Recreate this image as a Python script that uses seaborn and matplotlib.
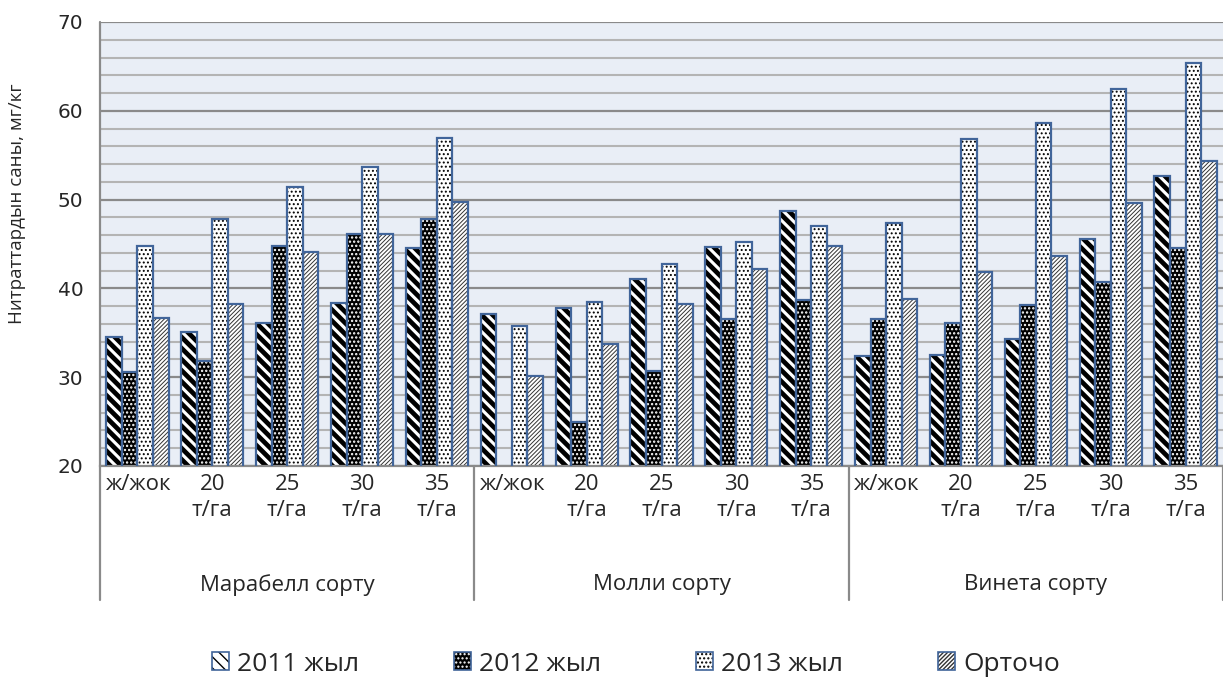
import numpy as np
import pandas as pd
import matplotlib
matplotlib.use('Agg')
import matplotlib.pyplot as plt
import matplotlib.patches as mpatches
import matplotlib.transforms as mtransforms
from matplotlib.ticker import MultipleLocator
import seaborn as sns

sns.set_style('white')
plt.rcParams['font.family'] = ['Open Sans', 'DejaVu Sans']
plt.rcParams['hatch.linewidth'] = 1.0

# ---- data ----
groups = ['Марабелл сорту', 'Молли сорту', 'Винета сорту']
doses = ['ж/жок', '20\nт/га', '25\nт/га', '30\nт/га', '35\nт/га']
series = ['2011 жыл', '2012 жыл', '2013 жыл', 'Орточо']

y2011 = [34.5, 35.1, 36.1, 38.4, 44.5,
         37.1, 37.8, 41.1, 44.7, 48.7,
         32.4, 32.5, 34.3, 45.6, 52.7]
y2012 = [30.6, 31.8, 44.8, 46.1, 47.8,
         19.8, 24.9, 30.7, 36.6, 38.7,
         36.5, 36.1, 38.1, 40.7, 44.6]
y2013 = [44.8, 47.8, 51.4, 53.7, 56.9,
         35.8, 38.5, 42.7, 45.2, 47.0,
         47.4, 56.8, 58.6, 62.5, 65.4]
y_avg = [36.7, 38.2, 44.1, 46.1, 49.7,
         30.1, 33.7, 38.2, 42.2, 44.8,
         38.8, 41.8, 43.7, 49.6, 54.3]

keys = [f'{g}|{d}' for g in groups for d in doses]
df = pd.DataFrame({
    'key': keys * 4,
    'series': np.repeat(series, len(keys)),
    'value': y2011 + y2012 + y2013 + y_avg,
})

# fill colour, hatch colour, hatch, hatch linewidth
styles = {
    '2011 жыл': ('white', 'black', '\\\\\\', 3.4),
    '2012 жыл': ('black', 'white', '....', 1.1),
    '2013 жыл': ('white', 'black', '....', 0.9),
    'Орточо': ('white', '#333333', '////////', 0.7),
}
edge_blue = '#41659a'

fig, ax = plt.subplots(figsize=(12.23, 6.79), dpi=100)
fig.subplots_adjust(left=0.0818, right=1.0, bottom=0.3137, top=0.9676)
ax.set_facecolor('#e9eef6')

# layer 1: fills + hatches
sns.barplot(data=df, x='key', y='value', hue='series', order=keys,
            hue_order=series, width=0.83, dodge=True, legend=False,
            ax=ax, linewidth=0, errorbar=None)
for cont, s in zip(ax.containers, series):
    fc, hc, hatch, hlw = styles[s]
    for p in cont.patches:
        p.set_facecolor(fc)
        p.set_edgecolor(hc)
        p.set_hatch(hatch)
        p.set_linewidth(0)
        if hasattr(p, 'set_hatch_linewidth'):
            p.set_hatch_linewidth(hlw)
        p.set_zorder(2)

# layer 2: blue outlines
n_before = len(ax.containers)
sns.barplot(data=df, x='key', y='value', hue='series', order=keys,
            hue_order=series, width=0.83, dodge=True, legend=False,
            ax=ax, errorbar=None)
for cont in ax.containers[n_before:]:
    for p in cont.patches:
        p.set_facecolor('none')
        p.set_edgecolor(edge_blue)
        p.set_linewidth(1.6)
        p.set_zorder(3)

ax.set_xlim(-0.5, len(keys) - 0.5)
ax.set_ylim(20, 70)
ax.yaxis.set_major_locator(MultipleLocator(10))
ax.yaxis.set_minor_locator(MultipleLocator(2))
ax.grid(which='minor', axis='y', color='#b4b4b4', lw=1.5, zorder=0)
ax.grid(which='major', axis='y', color='#8a8a8a', lw=1.6, zorder=0)
ax.set_axisbelow(True)
ax.tick_params(axis='y', which='major', length=6, width=1.2, color='#8a8a8a',
               labelsize=14.5, pad=6)
ax.tick_params(axis='y', which='minor', length=0)
for lab in ax.get_yticklabels():
    lab.set_family('DejaVu Sans')

ax.set_xticks(range(len(keys)))
ax.set_xticklabels(doses * len(groups), fontsize=16, linespacing=1.3)
ax.tick_params(axis='x', length=0, pad=6)
ax.set_xlabel('')
ax.set_ylabel('Нитраттардын саны, мг/кг', fontsize=13.5)
ax.yaxis.set_label_coords(-0.066, 0.59)

for side in ['top', 'right']:
    ax.spines[side].set_visible(False)
ax.spines['bottom'].set_color('#8a8a8a')
ax.spines['bottom'].set_linewidth(1.6)
ax.spines['left'].set_visible(False)

# group separators and labels under the axis
trans = mtransforms.blended_transform_factory(ax.transData, ax.transAxes)
for b in [-0.5, 4.5, 9.5, 14.5]:
    ax.plot([b, b], [1.0 if b == -0.5 else 0.0, -0.302], transform=trans,
            color='#8a8a8a', lw=1.6, clip_on=False, zorder=5)
for i, g in enumerate(groups):
    ax.text(i * 5 + 2, -0.268, g, transform=trans, ha='center', va='center',
            fontsize=16)

# legend
handles = []
for s in series:
    fc, hc, hatch, hlw = styles[s]
    fill = mpatches.Patch(facecolor=fc, edgecolor=hc, hatch=hatch, linewidth=0)
    outline = mpatches.Patch(facecolor='none', edgecolor=edge_blue, linewidth=1.2)
    handles.append((fill, outline))
fig.legend(handles, series, loc='center', bbox_to_anchor=(0.52, 0.022),
           ncol=4, frameon=False, fontsize=19, handlelength=0.65,
           handleheight=0.65, handletextpad=0.3, columnspacing=3.6)

fig.savefig('out.png', dpi=100)
